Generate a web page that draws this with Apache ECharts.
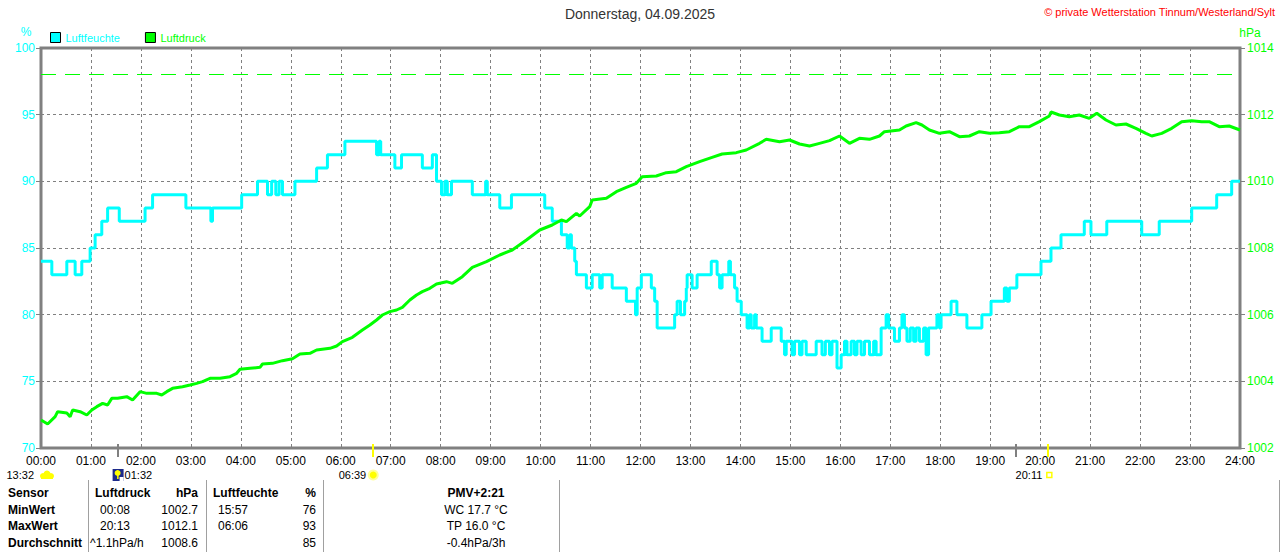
<!DOCTYPE html>
<html><head><meta charset="utf-8">
<script src="https://cdn.jsdelivr.net/npm/echarts@6/dist/echarts.min.js"></script>
<style>html,body{margin:0;padding:0;background:#fff}#c{width:1280px;height:552px}</style>
</head><body><div id="c"></div>
<script>
// ---------- data ----------
const titleText = 'Donnerstag, 04.09.2025';
const copyrightText = '\u00A9 private Wetterstation Tinnum/Westerland/Sylt';

// Luftfeuchte (%) : minute of day where value changes, new value
const humMinutes = [0,13,31,41,49,59,65,73,80,94,125,134,174,204,206,241,260,272,277,282,286,290,305,331,344,365,403,406,408,425,433,458,470,475,481,485,488,493,518,534,536,551,565,605,614,625,632,635,637,641,643,655,662,671,674,686,703,714,716,721,733,737,740,761,764,768,773,775,776,782,788,805,812,815,818,826,828,833,836,841,848,851,853,857,859,866,877,889,893,895,902,905,911,914,919,931,938,942,947,950,956,961,965,968,973,977,980,985,989,995,1000,1003,1009,1015,1018,1025,1031,1034,1037,1040,1044,1048,1051,1055,1060,1063,1066,1076,1079,1081,1093,1100,1112,1130,1141,1157,1160,1163,1172,1201,1213,1225,1253,1261,1280,1322,1343,1382,1412,1430,1440];
const humValues = [84,83,84,83,84,85,86,87,88,87,88,89,88,87,88,89,90,89,90,89,90,89,90,91,92,93,92,93,92,91,92,91,92,90,89,90,89,90,89,90,89,88,89,88,87,86,85,86,85,84,83,82,83,82,83,82,81,80,82,83,82,81,79,80,81,80,81,82,83,82,83,84,83,82,83,84,83,82,81,80,79,80,79,80,79,78,79,78,77,78,77,78,77,78,77,78,77,78,77,78,76,77,78,77,78,77,78,77,78,77,78,77,79,80,79,78,79,80,79,78,79,78,79,78,79,77,79,80,79,80,81,80,79,80,81,82,81,82,83,84,85,86,87,86,87,86,87,88,89,90,90];

// Luftdruck (hPa)
const presMinutes = [0,8,17,20,31,35,38,47,55,61,67,74,80,85,92,103,110,119,127,139,145,151,158,170,179,187,194,203,215,227,235,239,251,263,266,278,290,302,311,323,331,347,355,362,374,386,395,403,410,419,427,434,443,451,458,467,475,487,494,506,518,535,551,566,583,599,614,625,631,643,647,659,662,679,691,703,715,722,739,751,763,775,791,806,818,835,847,863,871,887,899,911,923,935,947,959,971,983,995,1007,1013,1031,1039,1051,1058,1067,1079,1091,1103,1115,1127,1139,1151,1163,1175,1187,1199,1211,1213,1223,1235,1247,1259,1268,1279,1291,1303,1315,1327,1334,1346,1358,1370,1382,1394,1403,1415,1427,1440];
const presValues = [1002.84,1002.72,1002.94,1003.09,1003.05,1002.94,1003.14,1003.09,1002.99,1003.14,1003.24,1003.34,1003.29,1003.49,1003.49,1003.54,1003.44,1003.69,1003.64,1003.64,1003.59,1003.69,1003.79,1003.84,1003.89,1003.94,1003.99,1004.09,1004.09,1004.14,1004.24,1004.36,1004.39,1004.42,1004.52,1004.54,1004.62,1004.68,1004.82,1004.84,1004.94,1004.99,1005.06,1005.19,1005.32,1005.54,1005.69,1005.84,1005.99,1006.09,1006.14,1006.22,1006.44,1006.59,1006.69,1006.79,1006.92,1006.99,1006.94,1007.14,1007.42,1007.59,1007.79,1007.94,1008.24,1008.54,1008.69,1008.84,1008.79,1009.04,1008.96,1009.24,1009.44,1009.49,1009.69,1009.82,1009.94,1010.14,1010.16,1010.26,1010.29,1010.44,1010.59,1010.72,1010.82,1010.86,1010.94,1011.14,1011.26,1011.19,1011.24,1011.12,1011.06,1011.14,1011.22,1011.36,1011.14,1011.29,1011.26,1011.36,1011.49,1011.54,1011.66,1011.76,1011.69,1011.54,1011.44,1011.49,1011.34,1011.36,1011.49,1011.44,1011.46,1011.49,1011.64,1011.64,1011.79,1011.96,1012.08,1011.99,1011.94,1011.99,1011.89,1012.04,1011.84,1011.69,1011.72,1011.59,1011.44,1011.36,1011.44,1011.59,1011.79,1011.82,1011.79,1011.79,1011.64,1011.66,1011.54];

const refPressure = 1013.2;

// event markers below time axis
const eventLabels = ['13:32','01:32','06:39','20:11'];
const eventMinutes = [0,92,399,1211];
const eventIcons = ['cloud','moon','sun','square'];
const eventSide = ['left','right','left','left'];
const grayTickMinutes = [92,1171];
const yellowTickMinutes = [399,1210];

// statistics table
const rowLabels = ['Sensor','MinWert','MaxWert','Durchschnitt'];
const presHead = ['Luftdruck','hPa'];
const presTimes = ['00:08','20:13','^1.1hPa/h'];
const presStats = ['1002.7','1012.1','1008.6'];
const humHead = ['Luftfeuchte','%'];
const humTimes = ['15:57','06:06',''];
const humStats = ['76','93','85'];
const extraLines = ['PMV+2:21','WC 17.7 \u00B0C','TP 16.0 \u00B0C','-0.4hPa/3h'];

// ---------- chart ----------
const FF = '"Liberation Sans", Arial, sans-serif';
const GRAY = '#808080';
const CYAN = '#00ffff';
const GREEN = '#00ff00';
const pad = n => (n < 10 ? '0' : '') + n;

const humData = humMinutes.map((m, i) => [m, humValues[i]]);
const presData = presMinutes.map((m, i) => [m, presValues[i]]);

const chart = echarts.init(document.getElementById('c'), null, {renderer: 'svg'});

const option = {
  animation: false,
  backgroundColor: '#fff',
  grid: {left: 41, right: 40, top: 48, bottom: 104, show: true, borderColor: GRAY, borderWidth: 3, backgroundColor: 'transparent'},
  title: {text: titleText, left: 'center', top: 2, textStyle: {fontFamily: FF, fontSize: 14, fontWeight: 'normal', color: '#333'}},
  legend: {
    left: 45, top: 27, itemWidth: 10, itemHeight: 10, itemGap: 25,
    textStyle: {fontFamily: FF, fontSize: 11},
    data: [
      {name: 'Luftfeuchte', icon: 'rect', itemStyle: {color: CYAN, borderColor: '#000', borderWidth: 1}, textStyle: {color: CYAN}},
      {name: 'Luftdruck', icon: 'rect', itemStyle: {color: GREEN, borderColor: '#000', borderWidth: 1}, textStyle: {color: GREEN}}
    ]
  },
  xAxis: {
    type: 'value', min: 0, max: 1440, interval: 60,
    axisLine: {show: false}, axisTick: {show: false},
    axisLabel: {color: '#000', fontFamily: FF, fontSize: 12, margin: 7, formatter: v => pad(Math.round(v / 60)) + ':00'},
    splitLine: {show: true, lineStyle: {color: GRAY, type: [3, 3], width: 1}}
  },
  yAxis: [
    {type: 'value', min: 70, max: 100, interval: 5, position: 'left',
     axisLine: {show: false}, axisTick: {show: true, length: 5, lineStyle: {color: GRAY}},
     axisLabel: {color: CYAN, fontFamily: FF, fontSize: 12, margin: 6, formatter: v => String(v)},
     splitLine: {show: true, lineStyle: {color: GRAY, type: [3, 3], width: 1}}},
    {type: 'value', min: 1002, max: 1014, interval: 2, position: 'right',
     axisLine: {show: false}, axisTick: {show: true, length: 5, lineStyle: {color: GRAY}},
     axisLabel: {color: GREEN, fontFamily: FF, fontSize: 12, margin: 7, formatter: v => String(v)},
     splitLine: {show: false}}
  ],
  series: [
    {name: 'Luftfeuchte', type: 'line', yAxisIndex: 0, step: 'end', data: humData, showSymbol: false,
     lineStyle: {color: CYAN, width: 3}, itemStyle: {color: CYAN}, z: 3},
    {name: 'Luftdruck', type: 'line', yAxisIndex: 1, data: presData, showSymbol: false,
     lineStyle: {color: GREEN, width: 3}, itemStyle: {color: GREEN}, z: 4,
     markLine: {silent: true, symbol: 'none', label: {show: false},
       lineStyle: {color: GREEN, type: [15, 9], width: 1}, data: [{yAxis: refPressure}]}}
  ]
};
chart.setOption(option);

// ---------- extra graphics ----------
const g = [];
const txt = (x, y, text, opt) => g.push(Object.assign({type: 'text', x, y, silent: true,
  style: Object.assign({text, fill: '#000', font: '12px ' + FF, textAlign: 'left', textVerticalAlign: 'middle'}, opt || {})}));
const line = (x1, y1, x2, y2, stroke, w) => g.push({type: 'line', silent: true, shape: {x1, y1, x2, y2}, style: {stroke, lineWidth: w}});

txt(1275, 12, copyrightText, {fill: '#ff0000', font: '11px ' + FF, textAlign: 'right'});
txt(26, 32, '%', {fill: CYAN, textAlign: 'center'});
txt(1250, 33, 'hPa', {fill: GREEN, textAlign: 'center'});

const yBottom = chart.convertToPixel({yAxisIndex: 0}, 70);
grayTickMinutes.forEach(m => { const x = Math.round(chart.convertToPixel({xAxisIndex: 0}, m)); line(x, yBottom - 4, x, yBottom + 9, GRAY, 2); });
yellowTickMinutes.forEach(m => { const x = Math.round(chart.convertToPixel({xAxisIndex: 0}, m)); line(x, yBottom - 4, x, yBottom + 9, '#ffff00', 2); });

const EF = '11px ' + FF;
eventMinutes.forEach((m, i) => {
  const x = chart.convertToPixel({xAxisIndex: 0}, m) + (eventIcons[i] === 'cloud' ? 4 : 0);
  const y = 475;
  const ic = eventIcons[i];
  if (ic === 'cloud') {
    g.push({type: 'circle', silent: true, shape: {cx: x - 2, cy: y + 1, r: 3}, style: {fill: '#ffff00'}});
    g.push({type: 'circle', silent: true, shape: {cx: x + 2, cy: y - 1, r: 3.5}, style: {fill: '#ffff00'}});
    g.push({type: 'circle', silent: true, shape: {cx: x + 6, cy: y + 1, r: 3}, style: {fill: '#ffff00'}});
    g.push({type: 'rect', silent: true, shape: {x: x - 4, y: y + 1, width: 12, height: 3}, style: {fill: '#ffff00'}});
  } else if (ic === 'moon') {
    g.push({type: 'rect', silent: true, shape: {x: x - 5, y: y - 6, width: 11, height: 12}, style: {fill: '#1c2a8a'}});
    g.push({type: 'circle', silent: true, shape: {cx: x, cy: y - 2, r: 3}, style: {fill: '#ffff00'}});
    g.push({type: 'rect', silent: true, shape: {x: x - 0.5, y: y, width: 1.5, height: 4}, style: {fill: '#ffff00'}});
    g.push({type: 'rect', silent: true, shape: {x: x + 2, y: y + 2, width: 4, height: 4}, style: {fill: '#ffffff'}});
  } else if (ic === 'sun') {
    g.push({type: 'circle', silent: true, shape: {cx: x, cy: y, r: 5.5}, style: {fill: '#ffff99'}});
    g.push({type: 'circle', silent: true, shape: {cx: x, cy: y, r: 3.5}, style: {fill: '#ffff00'}});
  } else {
    g.push({type: 'rect', silent: true, shape: {x: x - 2.5, y: y - 2.5, width: 5, height: 5}, style: {fill: '#fff', stroke: '#ffff00', lineWidth: 1.5}});
  }
  if (eventSide[i] === 'left') txt(x - 7 - (ic === 'cloud' ? 4 : 0), y, eventLabels[i], {textAlign: 'right', font: EF});
  else txt(x + 7, y, eventLabels[i], {textAlign: 'left', font: EF});
});

// table
const rowY = [493, 510, 526, 543];
const B = 'bold 12px ' + FF;
const N = '12px ' + FF;
rowLabels.forEach((t, i) => txt(8, rowY[i], t, {font: B}));
[88, 206, 323, 559, 1279].forEach(x => line(x + 0.5, 480, x + 0.5, 552, '#a0a0a0', 1));
txt(95, rowY[0], presHead[0], {font: B});
txt(198, rowY[0], presHead[1], {font: B, textAlign: 'right'});
presTimes.forEach((t, i) => txt(i === 2 ? 90 : 100, rowY[i + 1], t, {font: N}));
presStats.forEach((t, i) => txt(198, rowY[i + 1], t, {font: N, textAlign: 'right'}));
txt(213, rowY[0], humHead[0], {font: B});
txt(316, rowY[0], humHead[1], {font: B, textAlign: 'right'});
humTimes.forEach((t, i) => txt(218, rowY[i + 1], t, {font: N}));
humStats.forEach((t, i) => txt(316, rowY[i + 1], t, {font: N, textAlign: 'right'}));
extraLines.forEach((t, i) => txt(476, rowY[i], t, {font: i === 0 ? B : N, textAlign: 'center'}));

chart.setOption({graphic: g});
</script>
</body></html>
